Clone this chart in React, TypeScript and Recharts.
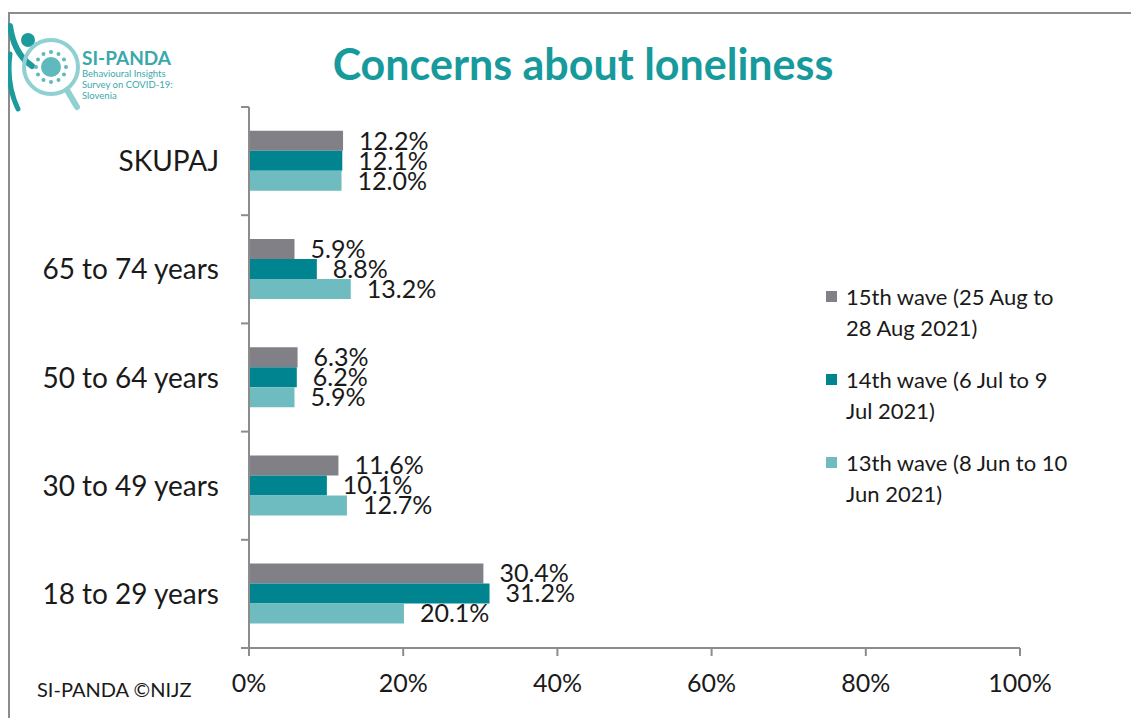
import React from 'react';
import { BarChart, Bar, XAxis, YAxis, LabelList } from 'recharts';

const categories = ['SKUPAJ', '65 to 74 years', '50 to 64 years', '30 to 49 years', '18 to 29 years'];
const wave15 = [12.2, 5.9, 6.3, 11.6, 30.4];
const wave14 = [12.1, 8.8, 6.2, 10.1, 31.2];
const wave13 = [12.0, 13.2, 5.9, 12.7, 20.1];
const xTicks = [0, 20, 40, 60, 80, 100];

const series = [
  { key: 'w15', name: ['15th wave (25 Aug to', '28 Aug 2021)'], color: '#808086', values: wave15 },
  { key: 'w14', name: ['14th wave (6 Jul to 9', 'Jul 2021)'], color: '#008590', values: wave14 },
  { key: 'w13', name: ['13th wave (8 Jun to 10', 'Jun 2021)'], color: '#6ebbc0', values: wave13 },
];

const data = categories.map((c, i) => {
  const row: Record<string, string | number> = { cat: c };
  series.forEach((s) => (row[s.key] = s.values[i]));
  return row;
});

const FONT = 'Lato, "Open Sans", sans-serif';
const AXIS = '#8c8c8c';
const W = 1139;
const H = 726;
const M = { top: 107, right: 119, bottom: 28, left: 9 };
const PLOT_H = H - M.top - M.bottom - 50;
const BAND = PLOT_H / categories.length;

const CatTick = (props: any) => {
  const { x, y, payload, index } = props;
  return (
    <g>
      <text x={x - 30} y={y} dy={10} textAnchor="end" fontSize={28} fill="#1a1a1a" fontFamily={FONT}>
        {payload.value}
      </text>
      {index === 0 && <line x1={x - 8} x2={x} y1={y - BAND / 2} y2={y - BAND / 2} stroke={AXIS} strokeWidth={2} />}
      <line x1={x - 8} x2={x} y1={y + BAND / 2} y2={y + BAND / 2} stroke={AXIS} strokeWidth={2} />
    </g>
  );
};

const Logo = () => (
  <svg width={200} height={115} style={{ position: 'absolute', left: 0, top: 14 }}>
    <path d="M10 12 Q14 40 32 52" stroke="#1c9a9c" strokeWidth={6} fill="none" strokeLinecap="round" />
    <path d="M10 40 Q6 70 18 95" stroke="#1c9a9c" strokeWidth={5} fill="none" strokeLinecap="round" />
    <circle cx={28} cy={26} r={7} fill="#1c9a9c" />
    <circle cx={51} cy={53} r={27} fill="none" stroke="#8fd0d2" strokeWidth={4} />
    <line x1={67} y1={76} x2={77} y2={93} stroke="#8fd0d2" strokeWidth={6} strokeLinecap="round" />
    <circle cx={51} cy={53} r={10} fill="#5fb9bd" />
    {[0, 30, 60, 90, 120, 150, 180, 210, 240, 270, 300, 330].map((a) => (
      <circle
        key={a}
        cx={51 + 15 * Math.cos((a * Math.PI) / 180)}
        cy={53 + 15 * Math.sin((a * Math.PI) / 180)}
        r={2}
        fill="#5fb9bd"
      />
    ))}
    <text x={82} y={51} fontSize={19} fontWeight={700} fill="#3aa9ab" fontFamily={FONT}>SI-PANDA</text>
    <text x={82} y={63} fontSize={9.5} fill="#3aa9ab" fontFamily={FONT}>Behavioural Insights</text>
    <text x={82} y={74} fontSize={9.5} fill="#3aa9ab" fontFamily={FONT}>Survey on COVID-19:</text>
    <text x={82} y={85} fontSize={9.5} fill="#3aa9ab" fontFamily={FONT}>Slovenia</text>
  </svg>
);

export default function App() {
  return (
    <div style={{ position: 'relative', width: W, height: H, margin: -8, overflow: 'hidden', background: '#fff', fontFamily: FONT }}>
      <div style={{ position: 'absolute', left: 8, top: 12, width: 1300, height: 900, borderLeft: `2px solid ${AXIS}`, borderTop: `2px solid ${AXIS}` }} />
      <Logo />
      <div style={{ position: 'absolute', left: 0, width: 1166, top: 38, textAlign: 'center', fontSize: 43, fontWeight: 700, color: '#179a9c' }}>
        Concerns about loneliness
      </div>
      <div style={{ position: 'absolute', left: 0, top: 0 }}>
        <BarChart width={W} height={H} data={data} layout="vertical" margin={M} barCategoryGap="22%" barGap={0}>
          <XAxis
            type="number"
            domain={[0, 100]}
            ticks={xTicks}
            tickFormatter={(v: number) => `${v}%`}
            height={50}
            tickSize={8}
            tickMargin={18}
            stroke={AXIS}
            axisLine={{ stroke: AXIS, strokeWidth: 2 }}
            tickLine={{ stroke: AXIS, strokeWidth: 2 }}
            tick={{ fontSize: 25, fill: '#1a1a1a', fontFamily: FONT }}
          />
          <YAxis
            type="category"
            dataKey="cat"
            width={240}
            tickSize={0}
            tickMargin={0}
            tickLine={false}
            axisLine={{ stroke: AXIS, strokeWidth: 2 }}
            tick={<CatTick />}
          />
          {series.map((s) => (
            <Bar key={s.key} dataKey={s.key} fill={s.color} isAnimationActive={false}>
              <LabelList
                dataKey={s.key}
                position="right"
                offset={16}
                formatter={(v: any) => `${Number(v).toFixed(1)}%`}
                style={{ fontSize: 25, fill: '#1a1a1a', fontFamily: FONT }}
              />
            </Bar>
          ))}
        </BarChart>
      </div>
      <div style={{ position: 'absolute', left: 826, top: 281, fontSize: 22, color: '#1a1a1a', lineHeight: '31px' }}>
        {series.map((s) => (
          <div key={s.key} style={{ position: 'relative', paddingLeft: 20, marginBottom: 21 }}>
            <span style={{ position: 'absolute', left: 0, top: 10, width: 11, height: 11, background: s.color }} />
            <div>{s.name[0]}</div>
            <div>{s.name[1]}</div>
          </div>
        ))}
      </div>
      <div style={{ position: 'absolute', left: 37, top: 677, fontSize: 20, color: '#1a1a1a' }}>SI-PANDA ©NIJZ</div>
    </div>
  );
}
